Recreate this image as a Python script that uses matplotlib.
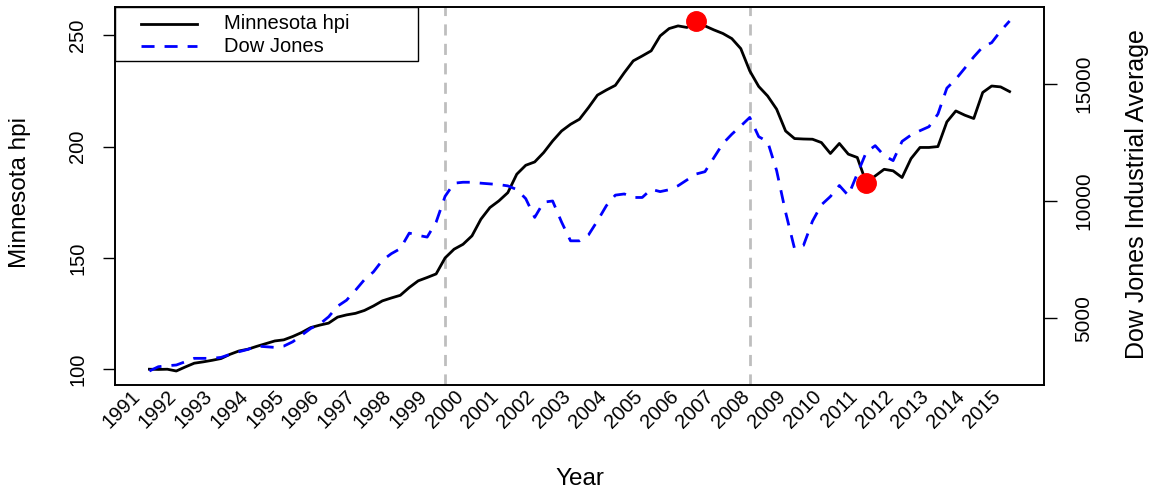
import matplotlib
matplotlib.use("Agg")
import matplotlib.pyplot as plt
import numpy as np

plt.rcParams['font.family'] = ['Liberation Sans', 'DejaVu Sans']

# quarterly data, 1991 Q1 .. 2015 Q1
start_year = 1991
hpi = [100.0, 99.9, 100.0, 99.2, 101.0, 102.7, 103.3, 104.0, 104.8, 106.7,
       108.2, 109.0, 110.3, 111.5, 112.7, 113.2, 114.7, 116.5, 118.7, 119.8,
       120.7, 123.4, 124.4, 125.1, 126.4, 128.4, 130.7, 132.0, 133.2, 136.7,
       139.7, 141.2, 142.8, 150.0, 153.9, 156.1, 159.9, 167.4, 172.6, 175.6,
       179.3, 187.6, 191.6, 193.1, 197.3, 202.5, 207.0, 210.0, 212.3, 217.5,
       223.1, 225.4, 227.5, 233.2, 238.5, 240.7, 243.0, 249.7, 253.0, 254.2,
       253.5, 256.4, 254.2, 252.4, 250.8, 248.5, 244.0, 234.0, 227.0, 222.7,
       216.8, 207.0, 203.6, 203.4, 203.3, 201.8, 196.9, 201.4, 196.6, 195.1,
       183.8, 186.8, 189.8, 189.1, 186.1, 194.6, 199.6, 199.6, 200.0, 211.1,
       216.0, 214.1, 212.6, 224.3, 227.2, 226.8, 224.7]
dow = [2745, 2928, 2970, 3000, 3140, 3285, 3285, 3285, 3326, 3455,
       3567, 3668, 3809, 3780, 3752, 3808, 3993, 4277, 4560, 4745,
       5057, 5510, 5766, 6191, 6645, 6972, 7468, 7752, 7966, 8630,
       8532, 8460, 9100, 10200, 10760, 10800, 10800, 10760, 10730, 10700,
       10645, 10490, 10100, 9300, 9950, 10000, 9100, 8300, 8300, 8550,
       9150, 9800, 10250, 10300, 10150, 10150, 10500, 10400, 10480, 10650,
       10900, 11150, 11250, 11850, 12450, 12850, 13200, 13566, 12745, 12532,
       11298, 9523, 7966, 8106, 9140, 9838, 10191, 10660, 10234, 11157,
       12078, 12362, 11936, 11723, 12545, 12816, 13000, 13170, 13710, 14817,
       15200, 15668, 16149, 16574, 16757, 17255, 17681]
years = list(range(1991, 2016))
vlines = [1999.25, 2007.75]

t = start_year + np.arange(len(hpi)) / 4.0
hpi = np.array(hpi)
dow = np.array(dow)

def pad(lo, hi):
    d = (hi - lo) * 0.04
    return lo - d, hi + d

fig = plt.figure(figsize=(11.55, 4.94), dpi=100)
ax = fig.add_axes([115/1155, 109/494, 929/1155, 378/494])

ax.plot(t, hpi, color='black', lw=2.0, zorder=3)
for v in vlines:
    ax.axvline(v, color='#BEBEBE', lw=2.0, linestyle=(0, (4, 3)), zorder=1)

# peak and post-crash low
i_max = int(np.argmax(hpi))
i_min = i_max + int(np.argmin(hpi[i_max:]))
ax.plot(t[[i_max, i_min]], hpi[[i_max, i_min]], 'o', color='red', ms=14, zorder=5)

ax.set_xlim(pad(t[0], t[-1]))
ax.set_ylim(pad(hpi.min(), hpi.max()))
ax.set_yticks([100, 150, 200, 250])
ax.tick_params(axis='y', labelsize=14.5, length=9, width=1, pad=11)
for lab in ax.get_yticklabels():
    lab.set_rotation(90)
    lab.set_va('center')

ax.set_xticks(np.array(years) - 0.33)
ax.set_xticklabels([str(y) for y in years], rotation=45, ha='right', va='center',
                   rotation_mode='anchor', fontsize=14.5)
ax.tick_params(axis='x', length=0, pad=6)

ax2 = ax.twinx()
ax2.plot(t, dow, color='blue', lw=2.0, linestyle=(0, (4.7, 3.6)), zorder=2)
ax2.set_ylim(pad(dow.min(), dow.max()))
ax2.set_yticks([5000, 10000, 15000])
ax2.tick_params(axis='y', labelsize=15, length=9, width=1, pad=13)
for lab in ax2.get_yticklabels():
    lab.set_rotation(90)
    lab.set_va('center')

for a in (ax, ax2):
    for s in a.spines.values():
        s.set_linewidth(1.2)

# legend box in the top left corner
ax2.add_patch(plt.Rectangle((0, 0.857), 0.3262, 0.143, transform=ax2.transAxes,
                            facecolor='white', edgecolor='black', lw=1.0, zorder=6))
ax2.plot([0.0277, 0.0879], [0.9563, 0.9563], transform=ax2.transAxes,
         color='black', lw=2.0, zorder=7)
ax2.plot([0.0277, 0.0879], [0.8968, 0.8968], transform=ax2.transAxes,
         color='blue', lw=2.0, linestyle=(0, (4.7, 3.6)), zorder=7)
ax2.text(0.1173, 0.9563, 'Minnesota hpi', transform=ax2.transAxes,
         fontsize=14.5, va='center', zorder=8)
ax2.text(0.1173, 0.8968, 'Dow Jones', transform=ax2.transAxes,
         fontsize=14.5, va='center', zorder=8)

fig.text(20/1155, 1 - 192/494, 'Minnesota hpi', rotation=90, fontsize=17.5,
         ha='center', va='center')
fig.text(1137/1155, 1 - 194/494, 'Dow Jones Industrial Average', rotation=90,
         fontsize=18, ha='center', va='center')
fig.text(580/1155, 1 - 479/494, 'Year', fontsize=17.5, ha='center', va='center')

fig.savefig('out.png', dpi=100)
